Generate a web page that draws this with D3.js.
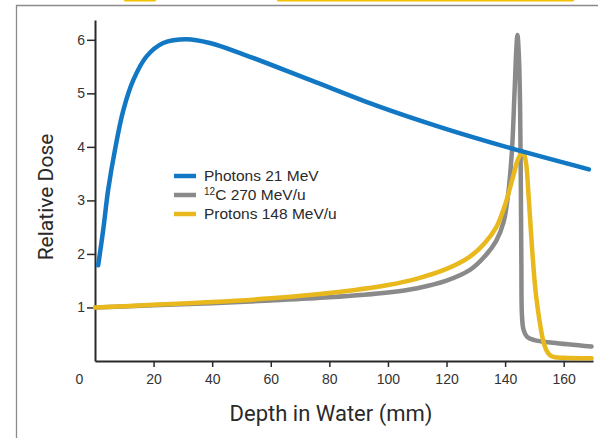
<!DOCTYPE html>
<html>
<head>
<meta charset="utf-8">
<script src="https://cdn.jsdelivr.net/npm/d3@7"></script>
<style>
  html, body { margin: 0; padding: 0; background: #fff; }
  svg { display: block; }
</style>
</head>
<body>
<svg id="chart" width="598" height="438"></svg>
<script>
// ---- data ----
const xTickValues = [20, 40, 60, 80, 100, 120, 140, 160];
const yTickValues = [1, 2, 3, 4, 5, 6];
const originLabel = "0";

const seriesNames = ["Photons 21 MeV", "C 270 MeV/u", "Protons 148 MeV/u"];

const photonDepth = [1.1, 2.8, 4.5, 6.8, 9.7, 13.1, 17.6, 23.3, 31.3, 39.2, 50.6, 73.4, 96.1, 118.9, 141.6, 168.6];
const photonDose  = [1.79, 2.45, 3.2, 3.94, 4.69, 5.25, 5.69, 5.94, 6.01, 5.94, 5.73, 5.25, 4.77, 4.35, 3.98, 3.58];

const carbonDepth = [0, 20, 40, 60, 80, 100, 110, 120, 128, 133, 137, 139.5, 141, 142.3, 143.2, 143.8, 144.2, 144.7, 145.1, 145.35, 145.55, 145.75, 146.3, 147.5, 150, 156.3, 169.5];
const carbonDose  = [1.0, 1.04, 1.08, 1.13, 1.19, 1.28, 1.36, 1.5, 1.7, 1.95, 2.25, 2.6, 3.1, 3.9, 5.0, 5.8, 6.09, 5.7, 4.8, 3.4, 1.8, 0.85, 0.58, 0.45, 0.39, 0.34, 0.27];

const protonDepth = [0, 20, 40, 60, 80, 100, 110, 120, 128, 133, 137, 140, 142.5, 144.5, 146.0, 147.0, 148.0, 149.2, 150.5, 151.9, 153.0, 154.2, 155.5, 157, 160, 169.5];
const protonDose  = [1.0, 1.05, 1.1, 1.17, 1.27, 1.42, 1.54, 1.72, 1.95, 2.2, 2.5, 2.92, 3.4, 3.78, 3.91, 3.75, 3.1, 2.1, 1.25, 0.7, 0.38, 0.19, 0.1, 0.07, 0.06, 0.05];

// ---- layout ----
const svg = d3.select("#chart");
const x = d3.scaleLinear().domain([0, 170]).range([95, 593]);
const y = d3.scaleLinear().domain([0, 6.37]).range([361, 20]);

const colors = ["#1278c4", "#8a8a8a", "#e8b81c"];
const labelFont = "'Liberation Sans', Arial, Helvetica, sans-serif";
const titleFont = "Roboto, 'Liberation Sans', Arial, sans-serif";

// decorative frame from page
svg.append("path")
  .attr("d", "M16.5,438 V5.5 H598")
  .attr("fill", "none").attr("stroke", "#8a8a8a").attr("stroke-width", 1.3);
svg.append("rect").attr("x", 124).attr("y", -1).attr("width", 32).attr("height", 2.5).attr("rx", 1.2).attr("fill", "#f2c200");
svg.append("rect").attr("x", 277).attr("y", -1).attr("width", 297).attr("height", 2.5).attr("rx", 1.2).attr("fill", "#f2c200");

// axes
const xAxis = d3.axisBottom(x).tickValues(xTickValues).tickFormat(d3.format("d"))
  .tickSize(6).tickSizeOuter(0).tickPadding(7);
const yAxis = d3.axisLeft(y).tickValues(yTickValues).tickFormat(d3.format("d"))
  .tickSize(8).tickSizeOuter(0).tickPadding(2);

const gx = svg.append("g").attr("transform", "translate(0,361)").call(xAxis);
const gy = svg.append("g").attr("transform", "translate(95,0)").call(yAxis);

[gx, gy].forEach(g => {
  g.select(".domain").attr("stroke", "#2a2a2a").attr("stroke-width", 2);
  g.selectAll(".tick line").attr("stroke", "#2a2a2a").attr("stroke-width", 1.5);
  g.selectAll(".tick text").attr("fill", "#333").style("font-family", labelFont).style("font-size", "14px");
});

svg.append("text").attr("x", 79.5).attr("y", 384).attr("text-anchor", "middle")
  .attr("fill", "#333").style("font-family", labelFont).style("font-size", "14px").text(originLabel);

// axis titles
svg.append("text").attr("x", 331).attr("y", 421).attr("text-anchor", "middle")
  .attr("fill", "#2a2a2a").style("font-family", titleFont).style("font-size", "22px")
  .text("Depth in Water (mm)");
svg.append("text").attr("transform", "translate(53,197) rotate(-90)").attr("text-anchor", "middle")
  .attr("fill", "#2a2a2a").style("font-family", titleFont).style("font-size", "21px")
  .text("Relative Dose");

// lines
const line = d3.line().x(d => x(d[0])).y(d => y(d[1])).curve(d3.curveCatmullRom.alpha(0.5));
const series = [
  d3.zip(photonDepth, photonDose),
  d3.zip(carbonDepth, carbonDose),
  d3.zip(protonDepth, protonDose)
];
[1, 2, 0].forEach(i => {
  svg.append("path").datum(series[i]).attr("d", line)
    .attr("fill", "none").attr("stroke", colors[i]).attr("stroke-width", 4.5)
    .attr("stroke-linecap", "round").attr("stroke-linejoin", "round");
});

// legend
const lg = svg.append("g");
const rowsY = [176, 195, 214];
seriesNames.forEach((name, i) => {
  lg.append("line").attr("x1", 174).attr("x2", 196).attr("y1", rowsY[i]).attr("y2", rowsY[i])
    .attr("stroke", colors[i]).attr("stroke-width", 4.5);
  const t = lg.append("text").attr("x", 204).attr("y", rowsY[i] + 4.8)
    .attr("fill", "#2a2a2a").style("font-family", labelFont).style("font-size", "15.5px");
  if (i === 1) {
    t.append("tspan").attr("dy", -5).style("font-size", "10px").text("12");
    t.append("tspan").attr("dy", 5).text(name);
  } else {
    t.text(name);
  }
});
</script>
</body>
</html>
